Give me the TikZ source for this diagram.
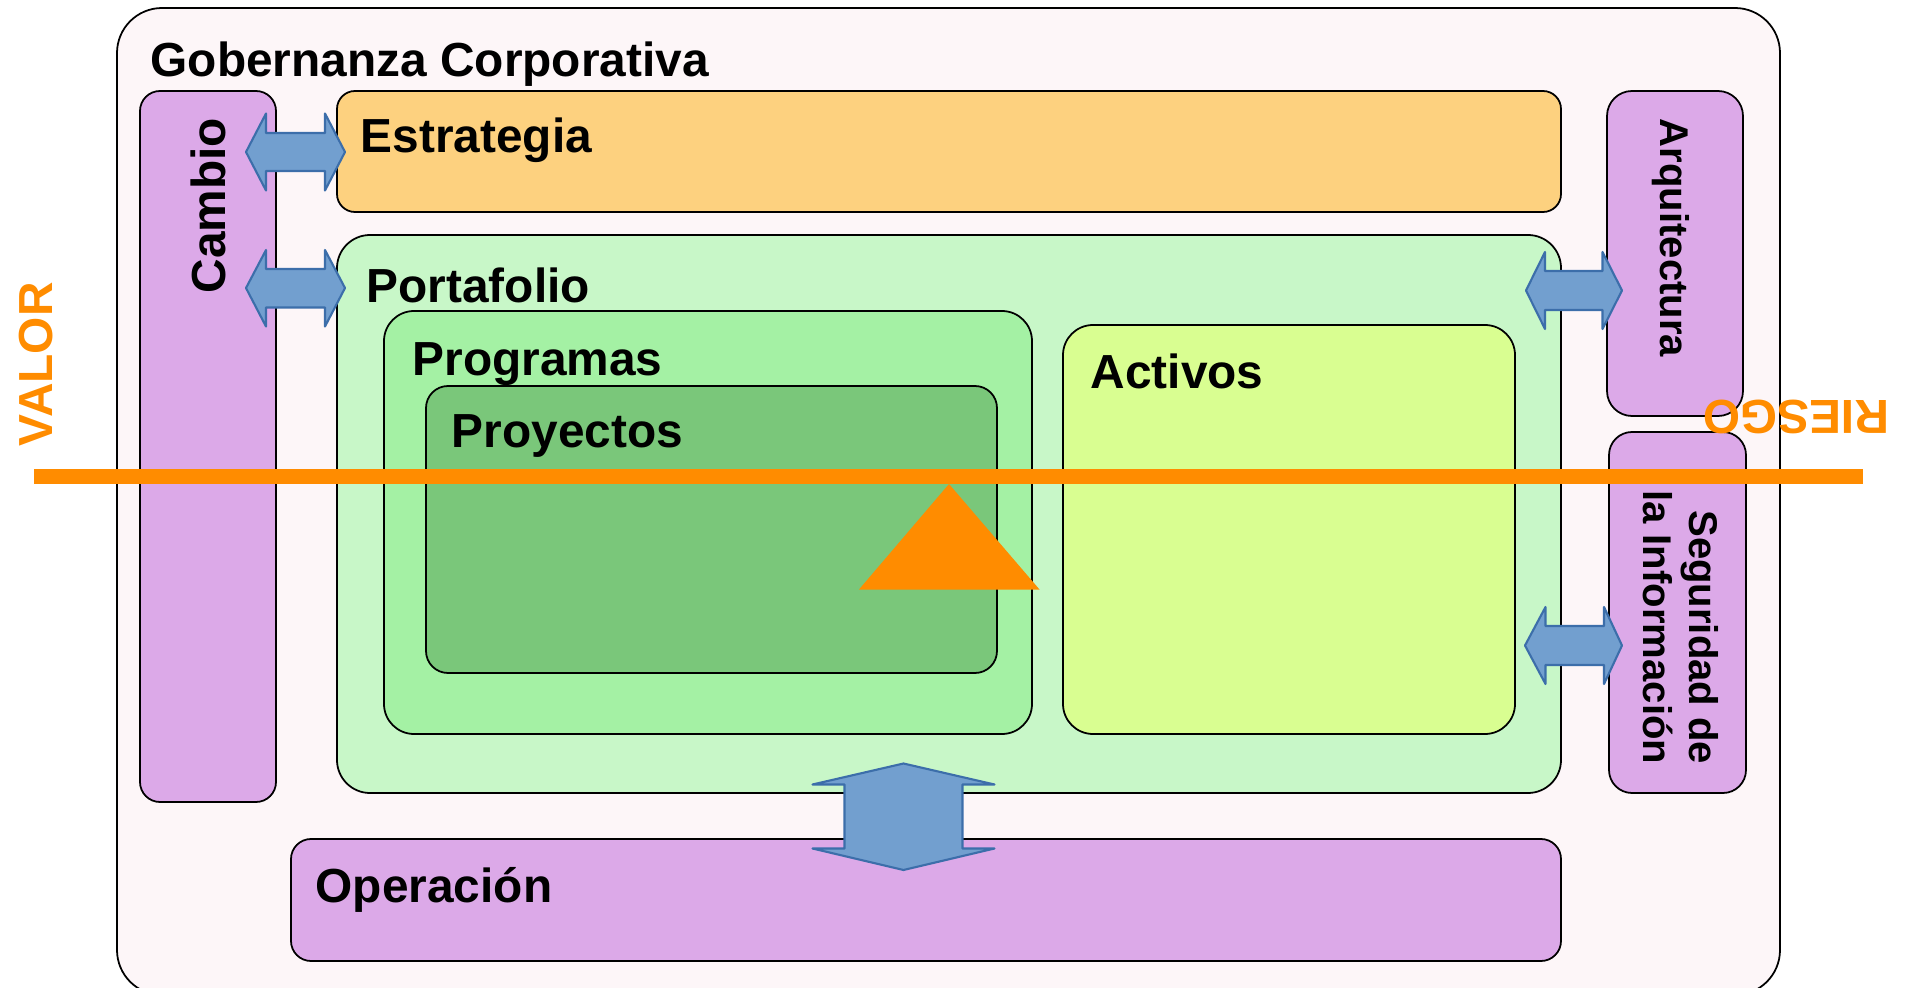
\documentclass[tikz,border=0pt]{standalone}
\usepackage{fontspec}
\setmainfont{Liberation Sans}
\definecolor{govfill}{HTML}{FDF6F8}
\definecolor{lilac}{HTML}{DCA9E8}
\definecolor{stratfill}{HTML}{FDD17F}
\definecolor{portfill}{HTML}{C8F7C8}
\definecolor{progfill}{HTML}{A4F1A4}
\definecolor{proyfill}{HTML}{7AC77A}
\definecolor{actfill}{HTML}{D9FE91}
\definecolor{riskorange}{HTML}{FF8C00}
\definecolor{arrowfill}{HTML}{729FCF}
\definecolor{arrowline}{HTML}{3C6EAA}
\tikzset{
  panel/.style={
    draw=black,
    line width=0.5pt,
    rounded corners=#1,
  },
  panel/.default=2mm,
  block arrow/.style={
    fill=arrowfill,
    draw=arrowline,
    line width=0.6pt,
    line join=round,
  },
  box label/.style={
    inner sep=0pt,
    anchor=base west,
    font=\fontsize{13.6}{16}\selectfont\bfseries,
  },
  side label/.style={
    inner sep=0pt,
    align=right,
    font=\fontsize{11.4}{13.1}\selectfont\bfseries,
  },
  axis label/.style={
    box label,
    text=riskorange,
  },
}

\begin{document}
\begin{tikzpicture}[x=0.01cm, y=-0.01cm]
      \useasboundingbox (0,0) rectangle (1908,988);
      \clip (0,0) rectangle (1908,988);

      \draw[panel=4.5mm, fill=govfill] (117,8) rectangle (1780,995);
      \draw[panel, fill=lilac] (140,91) rectangle (276,802);
      \draw[panel=1.8mm, fill=stratfill] (337,91) rectangle (1561,212);
      \draw[panel=2.5mm, fill=lilac] (1607,91) rectangle (1743,416);
      \draw[panel=2.3mm, fill=lilac] (1609,432) rectangle (1746,793);
      \draw[panel, fill=lilac] (291,839) rectangle (1561,961);
      \draw[panel=3.3mm, fill=portfill] (337,235) rectangle (1561,793);
      \draw[panel=3mm, fill=progfill] (384,311) rectangle (1032,734);
      \draw[panel=2.2mm, fill=proyfill] (426,386) rectangle (997,673);
      \draw[panel=3mm, fill=actfill] (1063,325) rectangle (1515,734);

      \node[box label] (gob) at (150,77) {Gobernanza Corporativa};
      \node[box label] (estr) at (360,153) {Estrategia};
      \node[box label] (port) at (366,303) {Portafolio};
      \node[box label] (prog) at (412,376) {Programas};
      \node[box label] (proy) at (451,447) {Proyectos};
      \node[box label] (act) at (1090,389) {Activos};
      \node[box label] (oper) at (315,902) {Operación};
      \node[box label, rotate=90] (camb) at (225,294) {Cambio};
      \node[side label, anchor=base west, rotate=-90] (arq) at (1660,118) {Arquitectura};
      \node[side label, anchor=base east, rotate=-90] (seg) at (1643,765) {Seguridad de\\la Información};

      \draw[block arrow] (246,152) -- (266,113.5) -- (266,133) -- (325,133) -- (325,113.5) -- (345,152)
        -- (325,190.5) -- (325,171) -- (266,171) -- (266,190.5) -- cycle;
      \draw[block arrow] (246,288) -- (266,250) -- (266,269) -- (325,269) -- (325,250) -- (345,288)
        -- (325,326.5) -- (325,307.5) -- (266,307.5) -- (266,326.5) -- cycle;
      \draw[block arrow] (1526,290.5) -- (1545,252) -- (1545,271) -- (1602.5,271) -- (1602.5,252) -- (1622,290.5)
        -- (1602.5,329) -- (1602.5,310) -- (1545,310) -- (1545,329) -- cycle;
      \draw[block arrow] (1525,645.5) -- (1545.5,607) -- (1545.5,626) -- (1604,626) -- (1604,607) -- (1622,645.5)
        -- (1604,684) -- (1604,665) -- (1545.5,665) -- (1545.5,684) -- cycle;
      \draw[block arrow] (903.5,763.5) -- (994.5,784.5) -- (962.5,784.5) -- (962.5,848.5) -- (994.5,848.5) -- (903.5,870)
        -- (812.5,848.5) -- (844.5,848.5) -- (844.5,784.5) -- (812.5,784.5) -- cycle;

      \draw[riskorange, line width=4.3pt] (34,476.5) -- (1863,476.5);
      \fill[riskorange] (949,484) -- (1039.5,589.5) -- (859,589.5) -- cycle;

      \node[axis label, rotate=90] (valor) at (52,447) {VALOR};
      \node[axis label, rotate=180] (riesgo) at (1890,400) {RIESGO};
    \end{tikzpicture}
\end{document}
